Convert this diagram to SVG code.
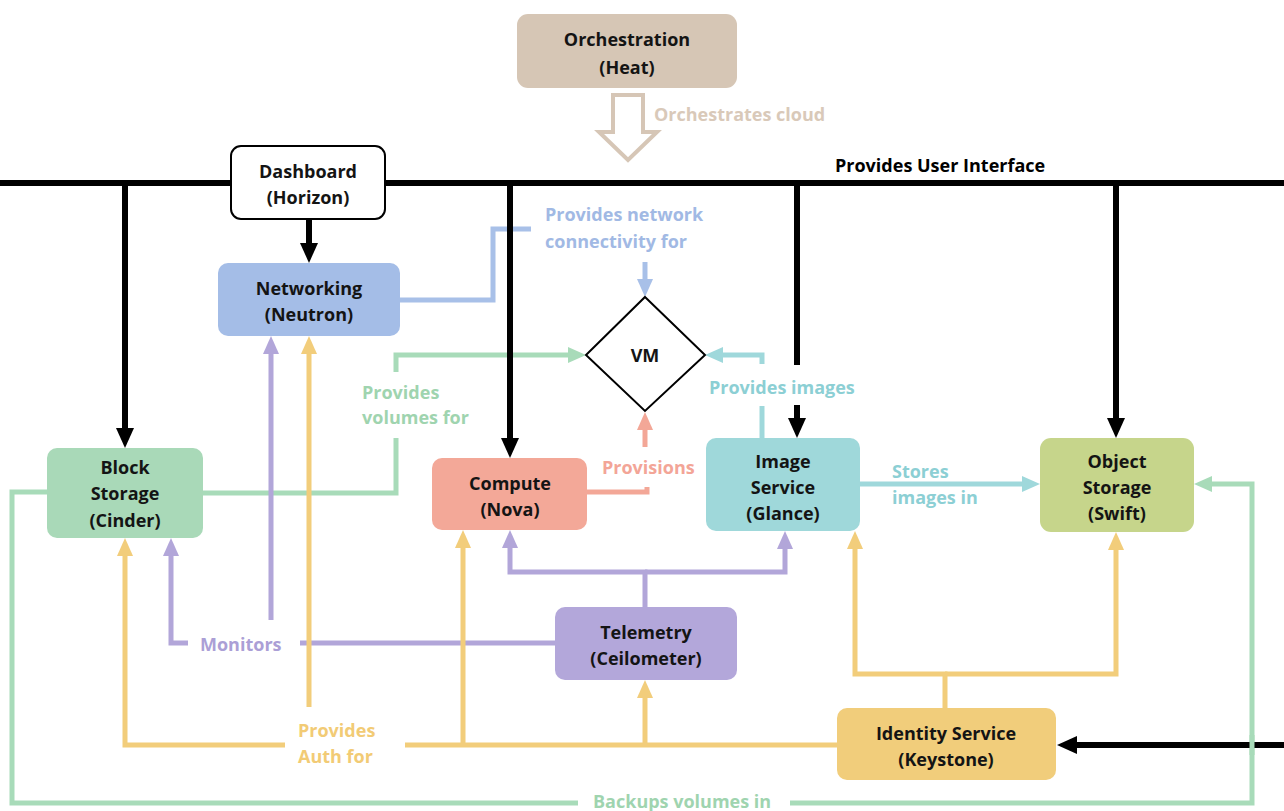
<svg xmlns="http://www.w3.org/2000/svg" width="1284" height="811" viewBox="0 0 1284 811">
<style>
text{font-family:"Open Sans",Lato,"Liberation Sans",sans-serif;font-weight:700;font-size:18px}
.n{fill:#141414;text-anchor:middle}
.l{fill:none;stroke-width:5}
.k{fill:none;stroke:#000;stroke-width:6}
.blue{stroke:#a8c0e8}.green{stroke:#a8dbb9}.sal{stroke:#f3a797}.teal{stroke:#9fd8db}.pur{stroke:#b2a6d9}.yel{stroke:#f2cd7b}
</style>
<defs>
<marker id="ak" viewBox="0 0 20 18" refX="6" refY="9" markerWidth="20" markerHeight="18" markerUnits="userSpaceOnUse" orient="auto"><path d="M0,0 L20,9 L0,18 z" fill="#000"/></marker>
<marker id="ab" viewBox="0 0 18 16" refX="6" refY="8" markerWidth="18" markerHeight="16" markerUnits="userSpaceOnUse" orient="auto"><path d="M0,0 L18,8 L0,16 z" fill="#a8c0e8"/></marker>
<marker id="ag" viewBox="0 0 18 16" refX="6" refY="8" markerWidth="18" markerHeight="16" markerUnits="userSpaceOnUse" orient="auto"><path d="M0,0 L18,8 L0,16 z" fill="#a8dbb9"/></marker>
<marker id="as" viewBox="0 0 18 16" refX="6" refY="8" markerWidth="18" markerHeight="16" markerUnits="userSpaceOnUse" orient="auto"><path d="M0,0 L18,8 L0,16 z" fill="#f3a797"/></marker>
<marker id="at" viewBox="0 0 18 16" refX="6" refY="8" markerWidth="18" markerHeight="16" markerUnits="userSpaceOnUse" orient="auto"><path d="M0,0 L18,8 L0,16 z" fill="#9fd8db"/></marker>
<marker id="ap" viewBox="0 0 18 16" refX="6" refY="8" markerWidth="18" markerHeight="16" markerUnits="userSpaceOnUse" orient="auto"><path d="M0,0 L18,8 L0,16 z" fill="#b2a6d9"/></marker>
<marker id="ay" viewBox="0 0 18 16" refX="6" refY="8" markerWidth="18" markerHeight="16" markerUnits="userSpaceOnUse" orient="auto"><path d="M0,0 L18,8 L0,16 z" fill="#f2cd7b"/></marker>
</defs>
<rect width="1284" height="811" fill="#fff"/>

<g id="connectors">
  <!-- orchestrates -->
  <polygon points="613,95 643,95 643,132 657,132 628,160 599,132 613,132" fill="#fff" stroke="#d6c6b6" stroke-width="4"/>
  <text x="654" y="121" fill="#d9c9b9">Orchestrates cloud</text>
  <!-- networking -->
  <polyline class="l blue" points="400,300 493,300 493,229 531,229"/>
  <path class="l blue" d="M645,262 V285" marker-end="url(#ab)"/>
  <text x="545" y="221" fill="#a1b9e4">Provides network</text>
  <text x="545" y="248" fill="#a1b9e4">connectivity for</text>
  <!-- volumes -->
  <polyline class="l green" points="203,493 396,493 396,438"/>
  <path class="l green" d="M396,372 V355 H574" marker-end="url(#ag)"/>
  <text x="362" y="399" fill="#9fd4af">Provides</text>
  <text x="362" y="424" fill="#9fd4af">volumes for</text>
  <!-- backups -->
  <polyline class="l green" points="47,492 12,492 12,803 578,803"/>
  <path class="l green" d="M790,803 H1252 V484 H1206" marker-end="url(#ag)"/>
  <text x="593" y="808" fill="#9fd4af">Backups volumes in</text>
  <!-- provisions -->
  <polyline class="l sal" points="587,492 647,492 647,487"/>
  <path class="l sal" d="M645,447 V424" marker-end="url(#as)"/>
  <text x="602" y="474" fill="#f3a597">Provisions</text>
  <!-- images -->
  <polyline class="l teal" points="762,438 762,406"/>
  <path class="l teal" d="M762,364 V355 H717" marker-end="url(#at)"/>
  <text x="709" y="394" fill="#8ccfd4">Provides images</text>
  <path class="l teal" d="M860,484 H1028" marker-end="url(#at)"/>
  <text x="892" y="478" fill="#8ccfd4">Stores</text>
  <text x="892" y="504" fill="#8ccfd4">images in</text>
  <!-- telemetry -->
  <path class="l pur" d="M645,607 V572 H510 V542" marker-end="url(#ap)"/>
  <path class="l pur" d="M645,572 H785 V543" marker-end="url(#ap)"/>
  <path class="l pur" d="M555,643 H300"/>
  <path class="l pur" d="M188,643 H171 V550" marker-end="url(#ap)"/>
  <path class="l pur" d="M271,620 V348" marker-end="url(#ap)"/>
  <text x="200" y="651" fill="#ab9fd6">Monitors</text>
  <!-- identity -->
  <path class="l yel" d="M837,745 H405"/>
  <path class="l yel" d="M285,745 H125 V550" marker-end="url(#ay)"/>
  <path class="l yel" d="M463,745 V542" marker-end="url(#ay)"/>
  <path class="l yel" d="M645,745 V692" marker-end="url(#ay)"/>
  <path class="l yel" d="M309,707 V348" marker-end="url(#ay)"/>
  <path class="l yel" d="M945,708 V674 H855 V543" marker-end="url(#ay)"/>
  <path class="l yel" d="M945,674 H1116 V544" marker-end="url(#ay)"/>
  <text x="298" y="737" fill="#f2cb75">Provides</text>
  <text x="298" y="763" fill="#f2cb75">Auth for</text>
  <!-- user interface -->
  <path class="k" d="M0,183 H1284"/>
  <path class="k" d="M125,183 V434" marker-end="url(#ak)"/>
  <path class="k" d="M510,183 V444" marker-end="url(#ak)"/>
  <path class="k" d="M797,183 V365"/>
  <path class="k" d="M797,405 V424" marker-end="url(#ak)"/>
  <path class="k" d="M1116,183 V424" marker-end="url(#ak)"/>
  <path class="k" d="M309,219 V249" marker-end="url(#ak)"/>
  <path class="k" d="M1284,745 H1071" marker-end="url(#ak)"/>
  <path class="l green" d="M1252,735 V755"/>
  <text x="835" y="172" fill="#000">Provides User Interface</text>
</g>

<g id="heat"><rect x="517" y="14" width="220" height="74" rx="11" fill="#d6c6b5"/>
<text class="n" x="627" y="46">Orchestration</text><text class="n" x="627" y="74">(Heat)</text></g>
<g id="horizon"><rect x="231" y="146" width="154" height="73" rx="10" fill="#fff" stroke="#000" stroke-width="2"/>
<text class="n" x="308" y="178">Dashboard</text><text class="n" x="308" y="204">(Horizon)</text></g>
<g id="neutron"><rect x="218" y="263" width="182" height="73" rx="10" fill="#a4bde7"/>
<text class="n" x="309" y="295">Networking</text><text class="n" x="309" y="321">(Neutron)</text></g>
<g id="vm"><polygon points="645,297 705,355 645,411 586,355" fill="#fff" stroke="#000" stroke-width="2"/>
<text class="n" x="645" y="362">VM</text></g>
<g id="cinder"><rect x="47" y="448" width="156" height="90" rx="10" fill="#a9d9b8"/>
<text class="n" x="125" y="474">Block</text><text class="n" x="125" y="500">Storage</text><text class="n" x="125" y="527">(Cinder)</text></g>
<g id="nova"><rect x="432" y="458" width="155" height="72" rx="10" fill="#f3a898"/>
<text class="n" x="510" y="490">Compute</text><text class="n" x="510" y="516">(Nova)</text></g>
<g id="glance"><rect x="706" y="438" width="154" height="93" rx="10" fill="#9fd8da"/>
<text class="n" x="783" y="468">Image</text><text class="n" x="783" y="494">Service</text><text class="n" x="783" y="520">(Glance)</text></g>
<g id="swift"><rect x="1040" y="438" width="154" height="94" rx="11" fill="#c6d58b"/>
<text class="n" x="1117" y="468">Object</text><text class="n" x="1117" y="494">Storage</text><text class="n" x="1117" y="520">(Swift)</text></g>
<g id="ceilometer"><rect x="555" y="607" width="182" height="73" rx="10" fill="#b3a7da"/>
<text class="n" x="646" y="639">Telemetry</text><text class="n" x="646" y="665">(Ceilometer)</text></g>
<g id="keystone"><rect x="837" y="708" width="219" height="72" rx="10" fill="#f1cd7b"/>
<text class="n" x="946" y="740">Identity Service</text><text class="n" x="946" y="766">(Keystone)</text></g>
</svg>
